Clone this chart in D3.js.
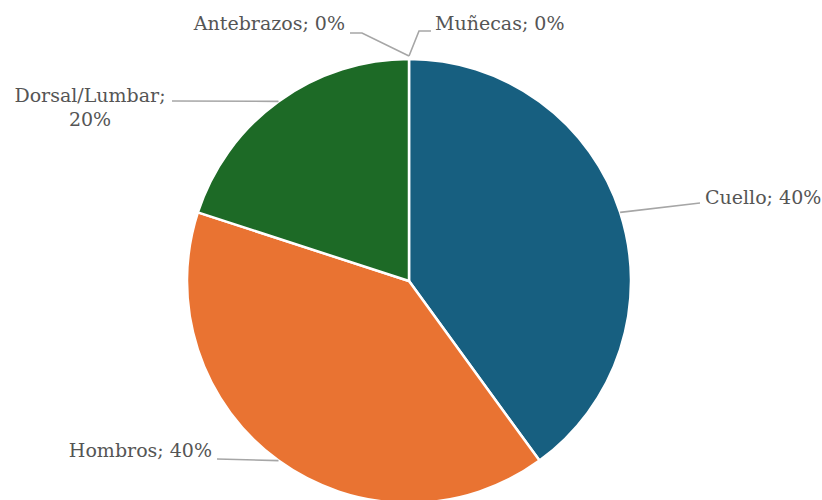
<!DOCTYPE html>
<html>
<head>
<meta charset="utf-8">
<script src="https://cdn.jsdelivr.net/npm/d3@7"></script>
<style>
  body { margin: 0; background: #fff; }
  svg { display: block; }
  .lbl { font-family: "DejaVu Serif", Georgia, serif; font-size: 19px; fill: #555; }
</style>
</head>
<body>
<div id="viz"></div>
<script>
// data
var categories = ['Cuello', 'Hombros', 'Dorsal/Lumbar', 'Antebrazos', 'Muñecas'];
var values = [40, 40, 20, 0, 0];
var colors = ['#175F80', '#E97332', '#1D6A26', '#A5A5A5', '#FFC000'];

var width = 822,
    height = 500,
    cx = 409,
    cy = 281,
    radius = 222;

// label placement (manual, like the original chart)
var labelPos = {
  'Cuello':        {x: 705, y: 204, anchor: 'start', elbow: [[700, 203]]},
  'Hombros':       {x: 212, y: 457, anchor: 'end',   elbow: [[217, 459]]},
  'Dorsal/Lumbar': {x: 90,  y: 102, anchor: 'middle', lines: ['Dorsal/Lumbar;', '20%'], elbow: [[172, 101]]},
  'Antebrazos':    {x: 345, y: 30,  anchor: 'end',   elbow: [[362, 33], [350, 33]]},
  'Muñecas':       {x: 435, y: 30,  anchor: 'start', elbow: [[419, 31], [431, 31]]}
};

var svg = d3.select('#viz').append('svg')
    .attr('width', width)
    .attr('height', height);

var pie = d3.pie().sort(null).value(function(d){ return d.value; });
var arc = d3.arc().innerRadius(0).outerRadius(radius);

var data = categories.map(function(c, i){
  return {name: c, value: values[i], color: colors[i]};
});
var arcs = pie(data);

var g = svg.append('g').attr('transform', 'translate(' + cx + ',' + cy + ')');

g.selectAll('path')
  .data(arcs.filter(function(d){ return d.value > 0; }))
  .enter().append('path')
  .attr('d', arc)
  .attr('fill', function(d){ return d.data.color; })
  .attr('stroke', '#fff')
  .attr('stroke-width', 2.5)
  .attr('stroke-linejoin', 'round');

// leader lines
arcs.forEach(function(d){
  var mid = (d.startAngle + d.endAngle) / 2;
  var p0 = [cx + Math.sin(mid) * radius, cy - Math.cos(mid) * radius];
  if (d.value === 0) p0 = [cx, cy - radius - 3];
  var pos = labelPos[d.data.name];
  var pts = [p0].concat(pos.elbow);
  svg.append('path')
    .attr('d', d3.line()(pts))
    .attr('fill', 'none')
    .attr('stroke', '#A6A6A6')
    .attr('stroke-width', 1.6);

  var lines = pos.lines || [d.data.name + '; ' + d.value + '%'];
  var t = svg.append('text')
    .attr('class', 'lbl')
    .attr('text-anchor', pos.anchor)
    .attr('x', pos.x)
    .attr('y', pos.y);
  lines.forEach(function(s, i){
    t.append('tspan').attr('x', pos.x).attr('dy', i === 0 ? 0 : 24).text(s);
  });
});
</script>
</body>
</html>
